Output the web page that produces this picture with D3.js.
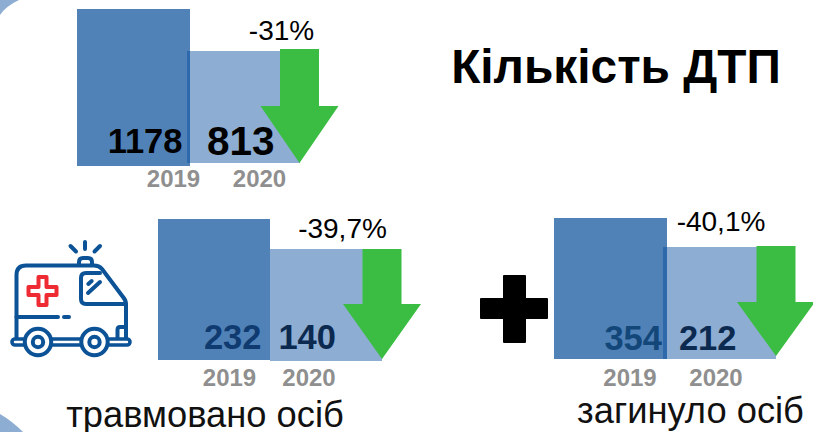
<!DOCTYPE html>
<html><head><meta charset="utf-8">
<script src="https://cdn.jsdelivr.net/npm/d3@7/dist/d3.min.js"></script>
<style>html,body{margin:0;padding:0;background:#fff;overflow:hidden}svg{display:block;font-family:"Liberation Sans",Arial,sans-serif}</style>
</head><body><svg id="c" width="813" height="432"></svg>
<script>
const years = ["2019", "2020"];
const crashes = [1178, 813];
const injured = [232, 140];
const deaths = [354, 212];
const changes = ["-31%", "-39,7%", "-40,1%"];
const captions = ["Кількість ДТП", "травмовано осіб", "загинуло осіб"];

const layout = [
 {vals:crashes, x0:77, step:110, w:113, top:[9,51], base:[166,163], change:changes[0], cx:281.5, cy:40,
  arrow:{x:299.5,top:49,neck:106,tip:163}, lab:[{x:182.5,y:153,s:34.5,c:"#000"},{x:274.5,y:155,s:40.5,c:"#000"}], yr:[173.5,259.5], yy:187},
 {vals:injured, x0:158, step:112, w:112, top:[219,249], base:[360,361], change:changes[1], cx:342.5, cy:238,
  arrow:{x:382,top:249,neck:304,tip:359}, lab:[{x:261.5,y:349,s:34.5,c:"#0f3b70"},{x:336,y:349,s:34.5,c:"#0c2a50"}], yr:[229.5,309], yy:386},
 {vals:deaths, x0:554, step:109, w:113, top:[218,247], base:[359,359], change:changes[2], cx:721, cy:231,
  arrow:{x:776,top:246,neck:302,tip:356}, lab:[{x:662,y:350,s:34.5,c:"#134779"},{x:736.5,y:350,s:34.5,c:"#0c2a50"}], yr:[630,716], yy:386}
];
const barColors = ["#5082b8", "#044b9c"];
const svg = d3.select("#c");

// background corners
svg.append("path").attr("d","M0,0L19,0Q6,6 0,15Z").attr("fill","#8dadd2");
svg.append("path").attr("d","M0,414Q12,421 23,432L0,432Z").attr("fill","#8dadd2");

const txt=(x,y,t,s,c,w,a)=>svg.append("text").attr("x",x).attr("y",y).attr("text-anchor",a||"middle")
  .attr("font-size",s).attr("font-weight",w||"normal").attr("fill",c).text(t);

layout.forEach(p=>{
  const x=d3.scalePoint().domain(years).range([p.x0,p.x0+p.step]);
  // truncated pictorial scale: maps the two values onto their bar tops
  const y=d3.scaleLinear().domain([p.vals[1],p.vals[0]]).range([p.top[1],p.top[0]]);
  const g=svg.append("g");
  years.forEach((yr,i)=>{
    g.append("rect").attr("x",x(yr)).attr("y",y(p.vals[i])).attr("width",p.w)
     .attr("height",p.base[i]-y(p.vals[i])).attr("fill",barColors[i]).attr("fill-opacity",i?0.455:1);
  });
  const a=p.arrow,sw=19.5,hw=39;
  svg.append("path").attr("fill","#3abd42").attr("d",d3.line()([
    [a.x-sw,a.top],[a.x+sw,a.top],[a.x+sw,a.neck],[a.x+hw,a.neck],[a.x,a.tip],[a.x-hw,a.neck],[a.x-sw,a.neck]])+"Z");
  p.lab.forEach((l,i)=>txt(l.x,l.y,p.vals[i],l.s,l.c,"bold","end"));
  years.forEach((yr,i)=>txt(p.yr[i],p.yy,yr,24,"#8f8f8f","bold"));
  txt(p.cx,p.cy,p.change,28,"#000");
});

txt(616,83,captions[0],47.8,"#000","bold");
txt(205,427,captions[1],36.3,"#111");
txt(690.5,423,captions[2],36.3,"#111");

// plus
svg.append("path").attr("fill","#000").attr("stroke","#000").attr("stroke-width",2).attr("stroke-linejoin","round")
 .attr("d","M504,276H525V299H547V318H525V342H504V318H481V299H504Z");

// ambulance icon
const amb=svg.append("g").attr("fill","none").attr("stroke","#0b5296").attr("stroke-width",4)
  .attr("stroke-linecap","round").attr("stroke-linejoin","round");
amb.append("path").attr("d","M16.5,338V275Q16.5,265.5 26,265.5H94Q99,265.5 102,269L123,297Q126,300 126,305V338");
amb.append("path").attr("d","M16.5,317H58M64,317H69");
amb.append("path").attr("d","M100,273H86Q81,273 81,278V299Q81,304 86,304H126");
amb.append("path").attr("d","M88,293L100,282M88.3,284L91.7,281");
amb.append("path").attr("d","M79,265V262Q79,258 83,258H88Q92,258 92,262V265");
amb.append("path").attr("d","M85,242V249M70.5,246L76,251.5M100,246L94.5,251.5");
amb.append("path").attr("d","M117.5,338V330Q117.5,327 120,327H126");
amb.append("rect").attr("x",12).attr("y",339).attr("width",118).attr("height",6).attr("rx",3).attr("stroke-width",3.6).attr("fill","#fff");
[38,94.5].forEach(cx=>{
  amb.append("circle").attr("cx",cx).attr("cy",342).attr("r",13.2).attr("fill","#fff");
  amb.append("circle").attr("cx",cx).attr("cy",342).attr("r",5.2);
});
svg.append("path").attr("fill","none").attr("stroke","#ee2a33").attr("stroke-width",4).attr("stroke-linejoin","round")
 .attr("d","M38.5,277H46.5V287H56.5V295H46.5V305H38.5V295H28.5V287H38.5Z");
</script></body></html>
